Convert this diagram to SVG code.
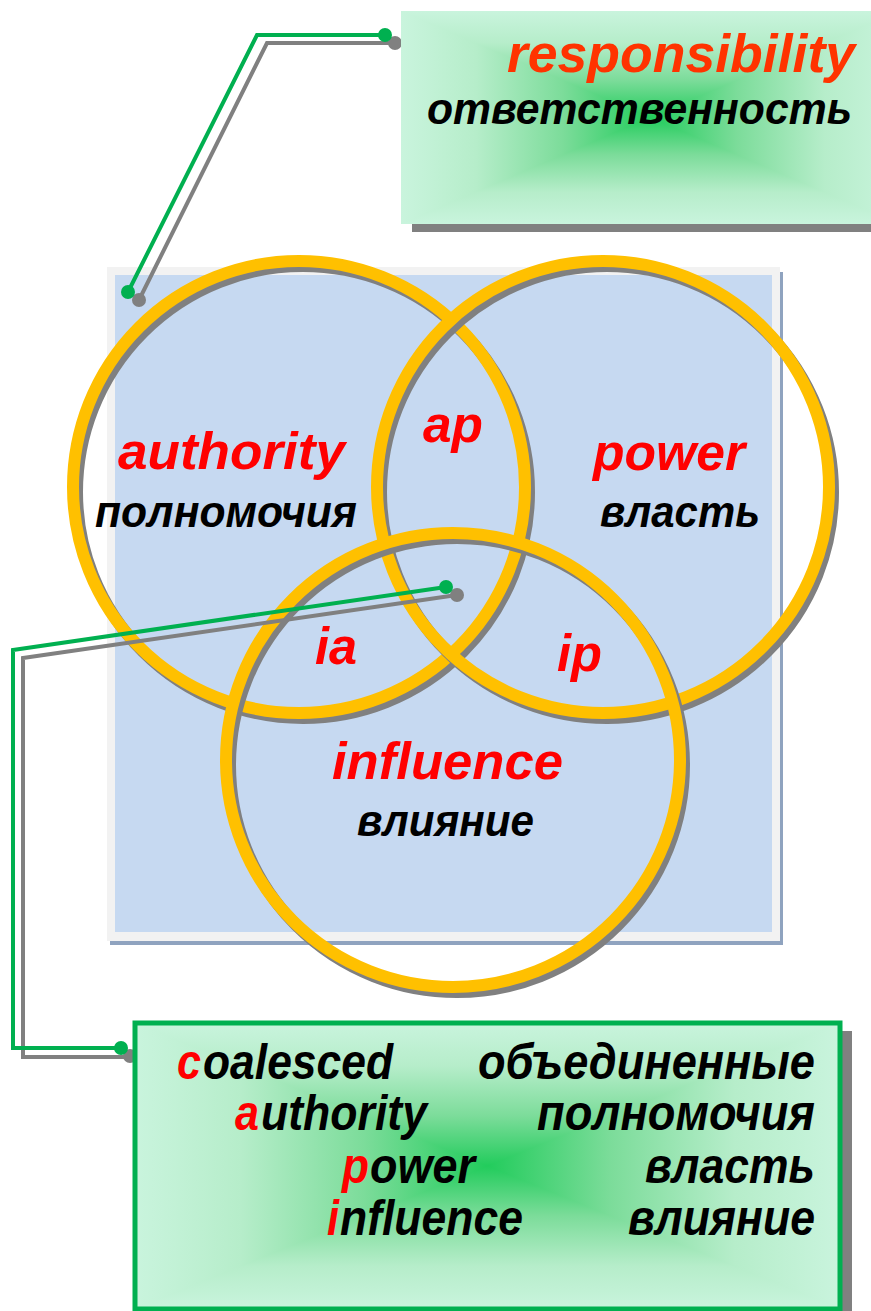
<svg xmlns="http://www.w3.org/2000/svg" width="871" height="1311" viewBox="0 0 871 1311">
<defs>
<style>
.t{font-family:"Liberation Sans",Arial,sans-serif;font-weight:bold;font-style:italic}
.red{fill:#ff0000}
.blk{fill:#000000}
.ring{fill:none;stroke:#ffc000;stroke-width:12}
.rsh{fill:none;stroke:#808080;stroke-width:12}
.g{fill:none;stroke:#00b050;stroke-width:4;stroke-linejoin:miter}
.s{fill:none;stroke:#808080;stroke-width:4;stroke-linejoin:miter}
</style>
<linearGradient id="tv" gradientUnits="userSpaceOnUse" x1="0" y1="11" x2="0" y2="224">
<stop offset="0" stop-color="#c9f4dd"/><stop offset="0.15" stop-color="#b6edca"/><stop offset="0.325" stop-color="#7cdc9a"/><stop offset="0.5" stop-color="#22cc5c"/><stop offset="0.675" stop-color="#7cdc9a"/><stop offset="0.85" stop-color="#b6edca"/><stop offset="1" stop-color="#c9f4dd"/>
</linearGradient>
<linearGradient id="th" gradientUnits="userSpaceOnUse" x1="401" y1="0" x2="899" y2="0">
<stop offset="0" stop-color="#c9f4dd"/><stop offset="0.15" stop-color="#b6edca"/><stop offset="0.325" stop-color="#7cdc9a"/><stop offset="0.5" stop-color="#22cc5c"/><stop offset="0.675" stop-color="#7cdc9a"/><stop offset="0.85" stop-color="#b6edca"/><stop offset="1" stop-color="#c9f4dd"/>
</linearGradient>
<linearGradient id="bv" gradientUnits="userSpaceOnUse" x1="0" y1="1023" x2="0" y2="1309">
<stop offset="0" stop-color="#c9f4dd"/><stop offset="0.15" stop-color="#b6edca"/><stop offset="0.325" stop-color="#7cdc9a"/><stop offset="0.5" stop-color="#22cc5c"/><stop offset="0.675" stop-color="#7cdc9a"/><stop offset="0.85" stop-color="#b6edca"/><stop offset="1" stop-color="#c9f4dd"/>
</linearGradient>
<linearGradient id="bh" gradientUnits="userSpaceOnUse" x1="135" y1="0" x2="840" y2="0">
<stop offset="0" stop-color="#c9f4dd"/><stop offset="0.15" stop-color="#b6edca"/><stop offset="0.325" stop-color="#7cdc9a"/><stop offset="0.5" stop-color="#22cc5c"/><stop offset="0.675" stop-color="#7cdc9a"/><stop offset="0.85" stop-color="#b6edca"/><stop offset="1" stop-color="#c9f4dd"/>
</linearGradient>
</defs>

<g id="background">
<rect x="110" y="272" width="673" height="673" fill="#8fa3bf"/>
<rect x="107" y="267" width="673" height="674" fill="#f2f2f2"/>
<rect x="115" y="275" width="657" height="657" fill="#c6d9f1"/>
</g>

<g id="authority-circle">
<circle class="rsh" cx="303" cy="492" r="226"/>
<circle class="ring" cx="299" cy="487" r="226"/>
</g>
<g id="power-circle">
<circle class="rsh" cx="607" cy="492" r="226"/>
<circle class="ring" cx="603" cy="487" r="226"/>
</g>
<g id="influence-circle">
<circle class="rsh" cx="457" cy="765" r="227"/>
<circle class="ring" cx="453" cy="760" r="227"/>
</g>

<g id="labels">
<text class="t red" x="118" y="469" font-size="52" textLength="227" lengthAdjust="spacingAndGlyphs">authority</text>
<text class="t blk" x="95" y="527" font-size="44" textLength="262" lengthAdjust="spacingAndGlyphs">полномочия</text>
<text class="t red" x="423" y="442" font-size="52" textLength="60" lengthAdjust="spacingAndGlyphs">ap</text>
<text class="t red" x="593" y="470" font-size="52" textLength="152" lengthAdjust="spacingAndGlyphs">power</text>
<text class="t blk" x="600" y="527" font-size="44" textLength="160" lengthAdjust="spacingAndGlyphs">власть</text>
<text class="t red" x="315" y="664" font-size="52" textLength="42" lengthAdjust="spacingAndGlyphs">ia</text>
<text class="t red" x="557" y="671" font-size="52" textLength="45" lengthAdjust="spacingAndGlyphs">ip</text>
<text class="t red" x="332" y="779" font-size="52" textLength="231" lengthAdjust="spacingAndGlyphs">influence</text>
<text class="t blk" x="357" y="836" font-size="44" textLength="177" lengthAdjust="spacingAndGlyphs">влияние</text>
</g>

<g id="connectors">
<polyline class="s" points="395,43 267,43 139,300"/>
<circle cx="395" cy="43" r="7" fill="#808080"/>
<circle cx="139" cy="300" r="7" fill="#808080"/>
<polyline class="g" points="385,35 257,35 128,292"/>
<circle cx="385" cy="35" r="7" fill="#00b050"/>
<circle cx="128" cy="292" r="7" fill="#00b050"/>

<polyline class="s" points="457,595 23,658 23,1057 130,1057"/>
<circle cx="457" cy="595" r="7" fill="#808080"/>
<circle cx="130" cy="1056" r="7" fill="#808080"/>
<polyline class="g" points="446,587 13,650 13,1048 120,1048"/>
<circle cx="446" cy="587" r="7" fill="#00b050"/>
<circle cx="121" cy="1048" r="7" fill="#00b050"/>
</g>

<g id="responsibility-box">
<rect x="412" y="19" width="498" height="213" fill="#808080"/>
<rect x="401" y="11" width="498" height="213" fill="url(#tv)"/>
<path d="M401,11 L650,117.5 L401,224 Z M899,11 L650,117.5 L899,224 Z" fill="url(#th)"/>
<text class="t" x="507" y="72" font-size="53" fill="#ff3300" textLength="348" lengthAdjust="spacingAndGlyphs">responsibility</text>
<text class="t blk" x="427" y="124" font-size="44" textLength="425" lengthAdjust="spacingAndGlyphs">ответственность</text>
</g>

<g id="capi-box">
<rect x="147" y="1031" width="705" height="290" fill="#808080"/>
<rect x="135" y="1023" width="705" height="286" fill="url(#bv)"/>
<path d="M135,1023 L487.5,1166 L135,1309 Z M840,1023 L487.5,1166 L840,1309 Z" fill="url(#bh)"/>
<rect x="135" y="1023" width="705" height="286" fill="none" stroke="#00b050" stroke-width="5"/>
<text class="t red" x="177" y="1079" font-size="50" textLength="24" lengthAdjust="spacingAndGlyphs">c</text>
<text class="t blk" x="203" y="1079" font-size="50" textLength="190" lengthAdjust="spacingAndGlyphs">oalesced</text>
<text class="t red" x="235" y="1130" font-size="50" textLength="24" lengthAdjust="spacingAndGlyphs">a</text>
<text class="t blk" x="261" y="1130" font-size="50" textLength="166" lengthAdjust="spacingAndGlyphs">uthority</text>
<text class="t red" x="342" y="1183" font-size="50" textLength="27" lengthAdjust="spacingAndGlyphs">p</text>
<text class="t blk" x="370" y="1183" font-size="50" textLength="105" lengthAdjust="spacingAndGlyphs">ower</text>
<text class="t red" x="327" y="1235" font-size="50" textLength="12" lengthAdjust="spacingAndGlyphs">i</text>
<text class="t blk" x="340" y="1235" font-size="50" textLength="183" lengthAdjust="spacingAndGlyphs">nfluence</text>
<text class="t blk" x="478" y="1079" font-size="50" textLength="337" lengthAdjust="spacingAndGlyphs">объединенные</text>
<text class="t blk" x="537" y="1130" font-size="50" textLength="278" lengthAdjust="spacingAndGlyphs">полномочия</text>
<text class="t blk" x="645" y="1183" font-size="50" textLength="170" lengthAdjust="spacingAndGlyphs">власть</text>
<text class="t blk" x="628" y="1235" font-size="50" textLength="187" lengthAdjust="spacingAndGlyphs">влияние</text>
</g>
</svg>
